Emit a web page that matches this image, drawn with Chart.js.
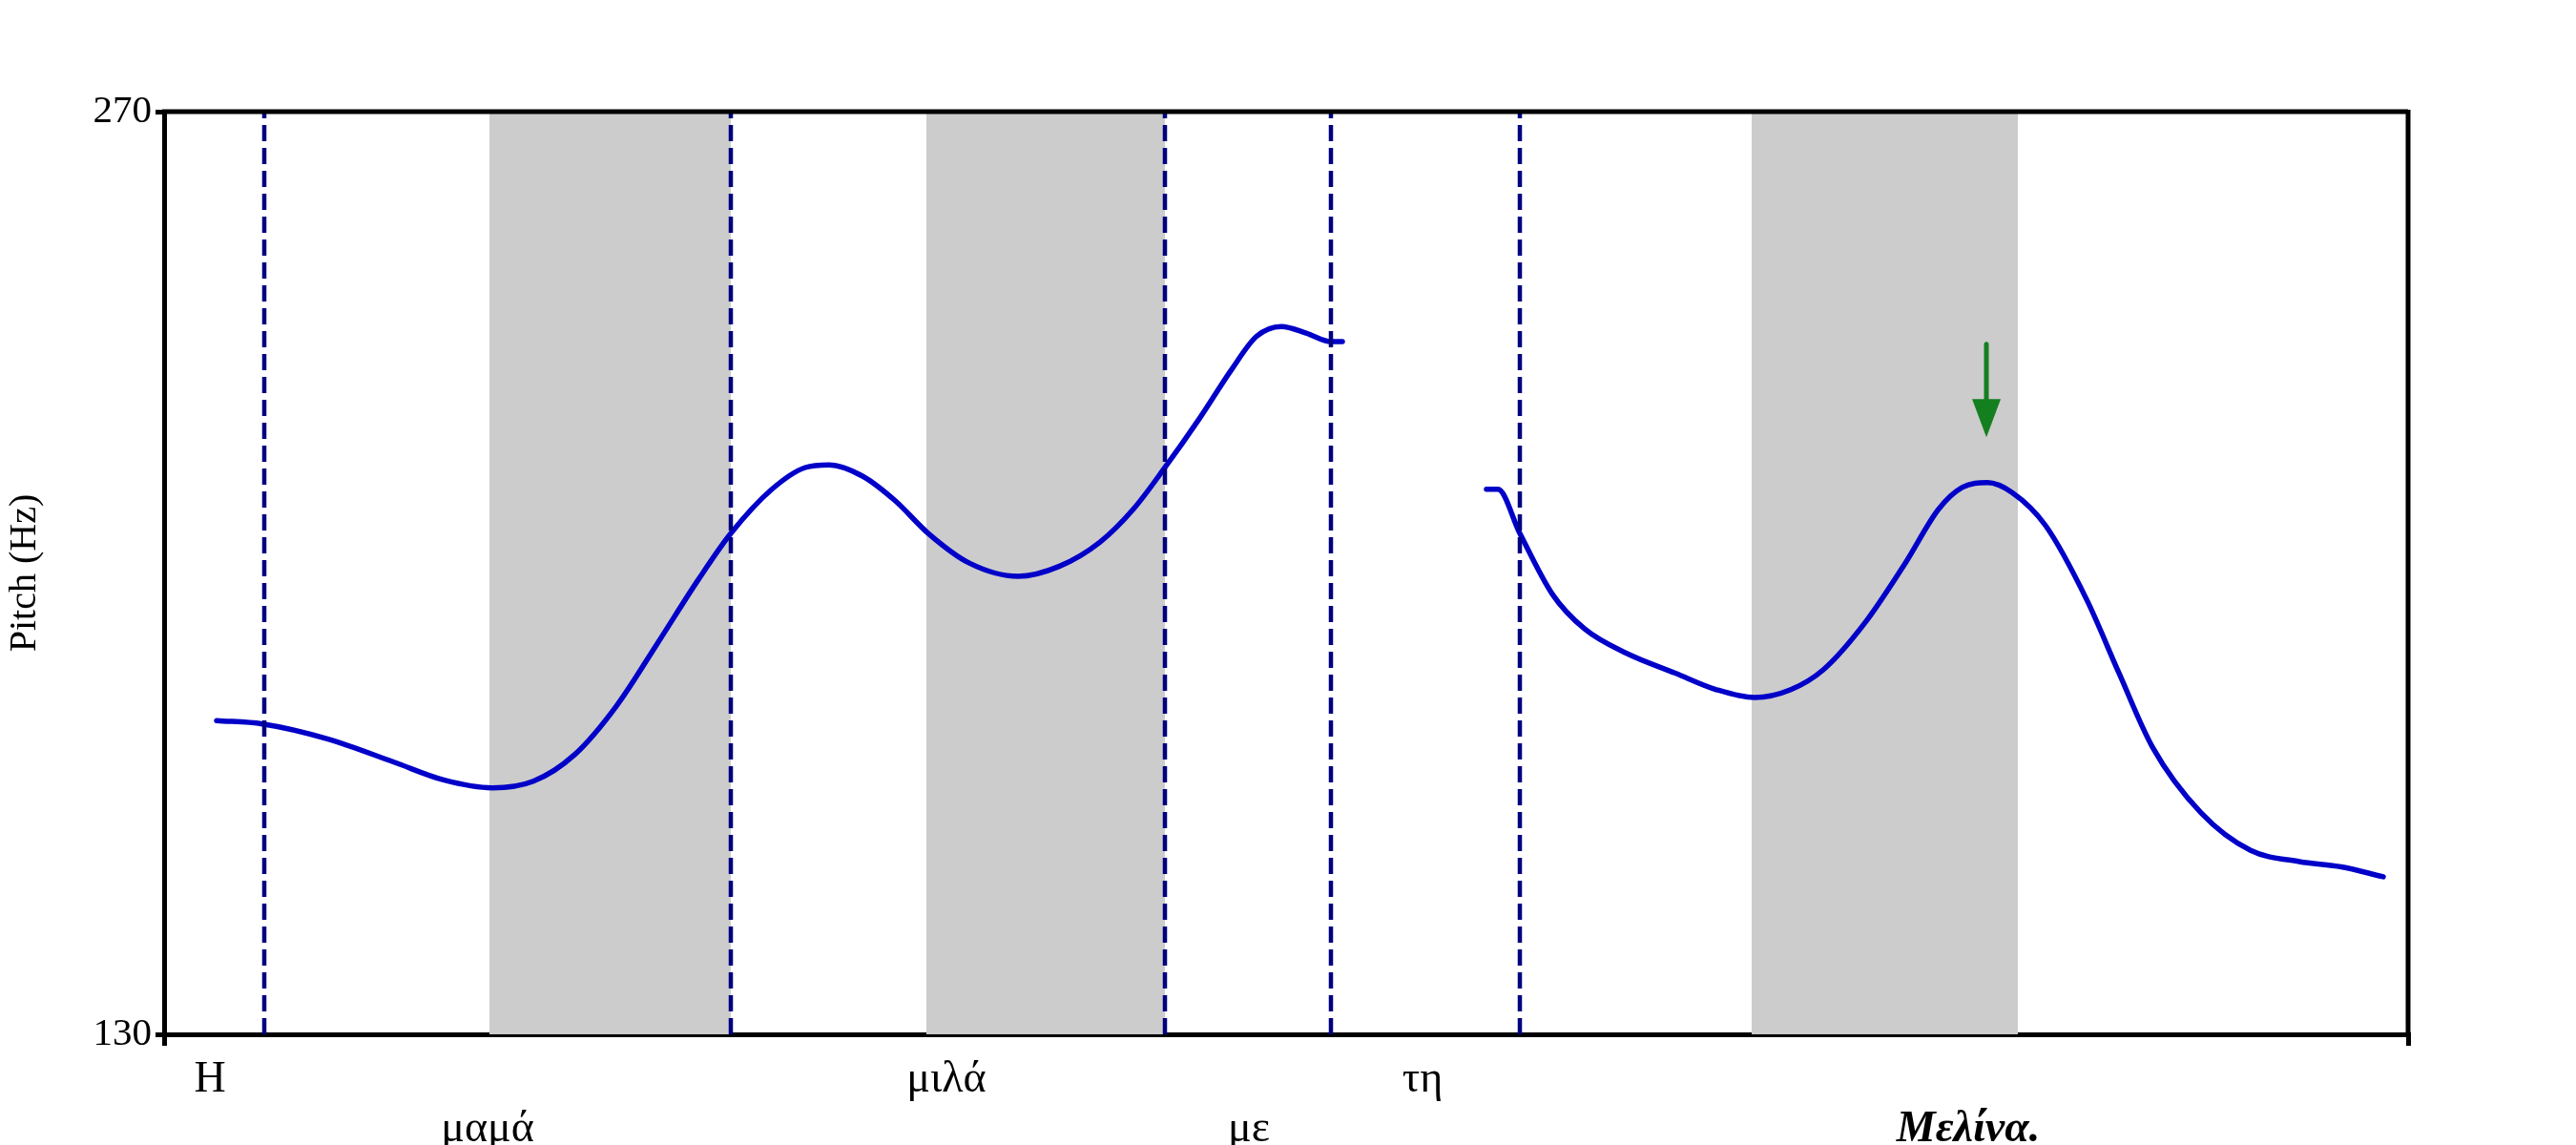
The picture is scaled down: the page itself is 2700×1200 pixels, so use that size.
<!DOCTYPE html>
<html>
<head>
<meta charset="utf-8">
<title>Pitch contour</title>
<script src="https://cdn.jsdelivr.net/npm/chart.js@4.4.1/dist/chart.umd.min.js"></script>
<style>
  body { margin: 0; background: #ffffff; }
  #wrap { width: 2700px; height: 1200px; }
</style>
</head>
<body>
<div id="wrap"><canvas id="pitchChart" width="2700" height="1200"></canvas></div>
<script>
'use strict';

// Globals

// Time axis (s) and pitch axis (Hz) limits
const timeMin = 0;
const timeMax = 2.352;
const pitchTicks = [130, 270];

// First voiced stretch: "Η μαμά μιλά με"
const segATimes = [
  0.055, 0.103, 0.172, 0.241, 0.293, 0.344, 0.387, 0.430, 0.474, 0.517,
  0.560, 0.594, 0.637, 0.672, 0.697, 0.732, 0.766, 0.801, 0.844, 0.895,
  0.938, 0.981, 1.016, 1.049, 1.085, 1.119, 1.145, 1.171, 1.197, 1.223, 1.235
];
const segAPitch = [
  177.6, 177.1, 174.8, 171.3, 168.6, 167.4, 168.4, 172.4, 179.8, 189.3,
  199.0, 206.0, 212.7, 216.0, 216.4, 214.7, 211.0, 206.0, 201.5, 199.5,
  201.0, 204.7, 209.7, 216.0, 223.4, 230.9, 235.9, 237.4, 236.4, 235.1, 235.1
];

// Second voiced stretch: "τη Μελίνα."
const segBTimes = [
  1.386, 1.398, 1.421, 1.455, 1.489, 1.533, 1.584, 1.627, 1.667, 1.705,
  1.739, 1.782, 1.825, 1.860, 1.885, 1.911, 1.937, 1.972, 2.015, 2.049,
  2.084, 2.135, 2.187, 2.238, 2.282, 2.326
];
const segBPitch = [
  212.7, 212.7, 206.0, 196.8, 191.5, 187.8, 184.8, 182.3, 181.1, 182.3,
  185.3, 192.3, 201.5, 209.7, 213.0, 213.7, 212.2, 207.2, 196.0, 184.8,
  173.6, 163.6, 157.9, 156.2, 155.4, 153.9
];

// Word boundaries (dashed lines)
const boundaryTimes = [0.105, 0.594, 1.049, 1.223, 1.421];

// Stressed syllables (grey bands)
const stressStart = [0.341, 0.799, 1.664];
const stressEnd = [0.594, 1.049, 1.943];

// Words under the axis, the last one is the nuclear word
const words = ['Η', 'μαμά', 'μιλά', 'με', 'τη', 'Μελίνα.'];
const wordTimes = [0.048, 0.339, 0.820, 1.137, 1.319, 1.891];
const focusWord = 'Μελίνα.';

// Green arrow over the nuclear peak
const arrowTime = 1.910;
const arrowFromHz = 234.7;
const arrowToHz = 220.6;

// Helper to zip two arrays into {x, y} points
function toPoints(xs, ys) {
  return xs.map((x, i) => ({ x: x, y: ys[i] }));
}

const serif = 'Liberation Serif, Times New Roman, serif';

// Grey bands go under the lines, frame, words and arrow go on top
const pitchDecor = {
  id: 'pitchDecor',
  beforeDatasetsDraw(chart) {
    const ctx = chart.ctx;
    const area = chart.chartArea;
    const xs = chart.scales.x;
    ctx.save();
    ctx.fillStyle = '#cccccc';
    stressStart.forEach((s, i) => {
      const x0 = xs.getPixelForValue(s);
      const x1 = xs.getPixelForValue(stressEnd[i]);
      ctx.fillRect(x0, area.top, x1 - x0, area.bottom - area.top);
    });
    ctx.restore();
  },
  afterDraw(chart) {
    const ctx = chart.ctx;
    const area = chart.chartArea;
    const xs = chart.scales.x;
    const ys = chart.scales.y;
    ctx.save();

    // top and right edges of the frame
    ctx.strokeStyle = '#000000';
    ctx.lineWidth = 5;
    ctx.lineCap = 'butt';
    ctx.beginPath();
    ctx.moveTo(area.left - 2, area.top);
    ctx.lineTo(area.right, area.top);
    ctx.moveTo(area.right, area.top - 2);
    ctx.lineTo(area.right, area.bottom);
    ctx.stroke();

    // words, alternating on two rows
    ctx.fillStyle = '#000000';
    ctx.textAlign = 'center';
    ctx.textBaseline = 'middle';
    words.forEach((w, i) => {
      const row = i % 2;
      ctx.font = (w === focusWord ? 'italic bold ' : '') + '46px ' + serif;
      ctx.fillText(w, xs.getPixelForValue(wordTimes[i]), area.bottom + 48 + row * 52);
    });

    // arrow
    const ax = xs.getPixelForValue(arrowTime);
    const ay0 = ys.getPixelForValue(arrowFromHz);
    const ay1 = ys.getPixelForValue(arrowToHz);
    const head = 40;
    ctx.strokeStyle = '#137f1f';
    ctx.fillStyle = '#137f1f';
    ctx.lineWidth = 5;
    ctx.lineCap = 'round';
    ctx.beginPath();
    ctx.moveTo(ax, ay0);
    ctx.lineTo(ax, ay1 - head + 2);
    ctx.stroke();
    ctx.beginPath();
    ctx.moveTo(ax - 15, ay1 - head);
    ctx.lineTo(ax + 15, ay1 - head);
    ctx.lineTo(ax, ay1);
    ctx.closePath();
    ctx.fill();
    ctx.restore();
  }
};

// Dashed boundary datasets
const boundarySets = boundaryTimes.map(t => ({
  data: [{ x: t, y: pitchTicks[0] }, { x: t, y: pitchTicks[1] }],
  borderColor: '#000080',
  borderWidth: 4.5,
  borderDash: [17, 7],
  pointRadius: 0,
  tension: 0
}));

const contourStyle = {
  borderColor: '#0000c8',
  borderWidth: 5.5,
  pointRadius: 0,
  cubicInterpolationMode: 'monotone',
  borderCapStyle: 'round',
  borderJoinStyle: 'round'
};

const ctx = document.getElementById('pitchChart').getContext('2d');
const pitchChart = new Chart(ctx, {
  type: 'line',
  data: {
    datasets: [
      ...boundarySets,
      Object.assign({ data: toPoints(segATimes, segAPitch) }, contourStyle),
      Object.assign({ data: toPoints(segBTimes, segBPitch) }, contourStyle)
    ]
  },
  options: {
    responsive: false,
    animation: false,
    devicePixelRatio: 1,
    layout: { padding: { top: 117, right: 176, left: 0, bottom: 0 } },
    plugins: {
      legend: { display: false },
      tooltip: { enabled: false }
    },
    scales: {
      x: {
        type: 'linear',
        min: timeMin,
        max: timeMax,
        afterBuildTicks(scale) {
          scale.ticks = [{ value: timeMin }, { value: timeMax }];
        },
        afterFit(scale) { scale.height = 116; },
        ticks: { display: false },
        grid: { drawOnChartArea: false, drawTicks: true, tickLength: 12, color: '#000000', lineWidth: 5 },
        border: { display: true, color: '#000000', width: 5 }
      },
      y: {
        min: pitchTicks[0],
        max: pitchTicks[1],
        afterBuildTicks(scale) {
          scale.ticks = pitchTicks.map(v => ({ value: v }));
        },
        afterFit(scale) { scale.width = 172; },
        ticks: {
          color: '#000000',
          padding: 4,
          font: { family: serif, size: 41 }
        },
        grid: { drawOnChartArea: false, drawTicks: true, tickLength: 9, color: '#000000', lineWidth: 5 },
        border: { display: true, color: '#000000', width: 5 },
        title: {
          display: true,
          text: 'Pitch (Hz)',
          color: '#000000',
          font: { family: serif, size: 40 },
          padding: { top: 2, bottom: 0 }
        }
      }
    }
  },
  plugins: [pitchDecor]
});
</script>
</body>
</html>
